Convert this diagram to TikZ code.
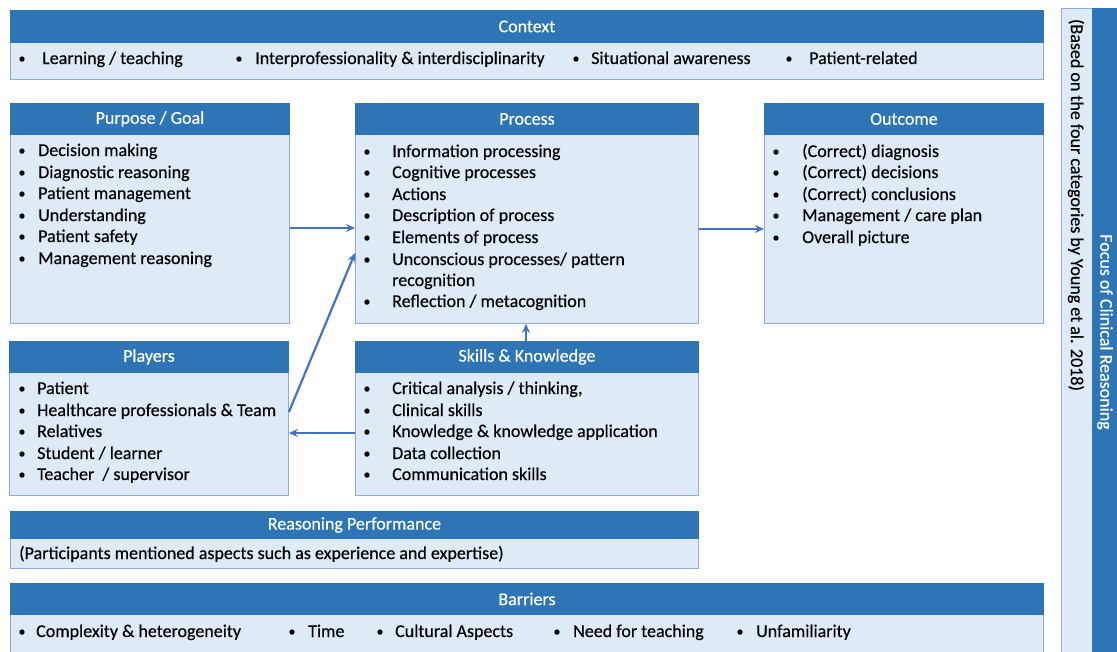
\documentclass[tikz,border=0pt]{standalone}
\usepackage{fontspec}
\setmainfont{Carlito}[FakeBold=0.35]
\newfontfamily\medfont{Carlito}[FakeBold=0.35]
\usetikzlibrary{arrows.meta}
\definecolor{hdr}{HTML}{2E75B6}
\definecolor{lite}{HTML}{DEEBF7}
\definecolor{edge}{HTML}{8FAADC}
\definecolor{arr}{HTML}{4472C4}
\tikzset{
  bodybox/.style={draw=edge, fill=lite, line width=0.9pt, anchor=north west, inner sep=0pt},
  hdrbox/.style={draw=hdr, fill=hdr, line width=0.9pt, anchor=north west, inner sep=0pt, text=white, font=\fontsize{18}{20}\selectfont},
  itm/.style={anchor=base west, inner sep=0pt, font=\fontsize{18}{20}\selectfont},
  bul/.style={anchor=base, inner sep=0pt, font=\fontsize{14}{16}\selectfont},
  conn/.style={draw=arr, line width=2.2pt, -{Stealth[length=9pt,width=8pt]}}
}
\begin{document}
\begin{tikzpicture}[x=1pt,y=-1pt]
\useasboundingbox (0,0) rectangle (1117,651);
% Context
\node[bodybox, minimum width=1033pt, minimum height=37pt] (ctxb) at (10,42) {};
\node[hdrbox, minimum width=1033pt, minimum height=32pt] (ctxh) at (10,10) {Context};
\foreach \bx/\tx/\t in {22/42/{Learning / teaching}, 239/255/{Interprofessionality \& interdisciplinarity}, 576/591/{Situational awareness}, 789/809/{Patient-related}}{
  \node[bul] at (\bx,63) {•}; \node[itm] at (\tx,64) {\t};}
% Purpose
\node[bodybox, minimum width=279pt, minimum height=189pt] (purb) at (10,134) {};
\node[hdrbox, minimum width=279pt, minimum height=31pt] (purh) at (10,103) {Purpose / Goal};
\foreach \y/\t in {156/{Decision making},178/{Diagnostic reasoning},199/{Patient management},221/{Understanding},242/{Patient safety},264/{Management reasoning}}{
  \node[bul] at (22,\y-1) {•}; \node[itm] at (38,\y) {\t};}
% Process
\node[bodybox, minimum width=343pt, minimum height=189pt] (prob) at (355,134) {};
\node[hdrbox, minimum width=343pt, minimum height=31pt] (proh) at (355,103) {Process};
\foreach \y/\t in {157/{Information processing},178/{Cognitive processes},200/{Actions},221/{Description of process},243/{Elements of process},265/{Unconscious processes/ pattern},307/{Reflection / metacognition}}{
  \node[bul] at (367,\y-1) {•}; \node[itm] at (392,\y) {\t};}
\node[itm] at (392,286) {recognition};
% Outcome
\node[bodybox, minimum width=279pt, minimum height=189pt] (outb) at (764,134) {};
\node[hdrbox, minimum width=279pt, minimum height=31pt] (outh) at (764,103) {Outcome};
\foreach \y/\t in {157/{(Correct) diagnosis},178/{(Correct) decisions},200/{(Correct) conclusions},221/{Management / care plan},243/{Overall picture}}{
  \node[bul] at (776,\y-1) {•}; \node[itm] at (802,\y) {\t};}
% Players
\node[bodybox, minimum width=279pt, minimum height=123pt] (plab) at (9,372) {};
\node[hdrbox, minimum width=279pt, minimum height=31pt] (plah) at (9,341) {Players};
\foreach \y/\t in {394/{Patient},416/{Healthcare professionals \& Team},437/{Relatives},459/{Student / learner},480/{Teacher \ / supervisor}}{
  \node[bul] at (22,\y-1) {•}; \node[itm] at (37,\y) {\t};}
% Skills
\node[bodybox, minimum width=343pt, minimum height=123pt] (skib) at (355,372) {};
\node[hdrbox, minimum width=343pt, minimum height=31pt] (skih) at (355,341) {Skills \& Knowledge};
\foreach \y/\t in {394/{Critical analysis / thinking,},416/{Clinical skills},437/{Knowledge \& knowledge application},459/{Data collection},480/{Communication skills}}{
  \node[bul] at (367,\y-1) {•}; \node[itm] at (392,\y) {\t};}
% Reasoning performance
\node[bodybox, minimum width=688pt, minimum height=30pt] (reab) at (10,538) {};
\node[hdrbox, minimum width=688pt, minimum height=27pt] (reah) at (10,511) {Reasoning Performance};
\node[itm] at (19,559) {(Participants mentioned aspects such as experience and expertise)};
% Barriers
\node[bodybox, minimum width=1033pt, minimum height=40pt] (barb) at (10,614) {};
\node[hdrbox, minimum width=1033pt, minimum height=31pt] (barh) at (10,583) {Barriers};
\foreach \bx/\tx/\t in {22/36/{Complexity \& heterogeneity}, 292/308/{Time}, 380/395/{Cultural Aspects}, 557/573/{Need for teaching}, 740/756/{Unfamiliarity}}{
  \node[bul] at (\bx,636) {•}; \node[itm] at (\tx,637) {\t};}
% Right side
\node[bodybox, minimum width=31pt, minimum height=650pt] (baseb) at (1061,8) {};
\node[hdrbox, minimum width=26pt, minimum height=650pt] (focb) at (1092,8) {};
\node[rotate=-90, inner sep=0pt, font=\fontsize{18}{20}\selectfont] (basetxt) at (1076,205) {(Based on the four categories by Young et al. 2018)};
\node[rotate=-90, inner sep=0pt, text=white, font=\fontsize{18}{20}\selectfont] (foctxt) at (1105,332) {Focus of Clinical Reasoning};
% Connectors
\coordinate (p1) at (289,228); \coordinate (p2) at (355,228);
\draw[conn] (purb.east |- p1) -- (prob.west |- p2);
\coordinate (q1) at (288,412); \coordinate (q2) at (355,253);
\draw[conn] (plab.east |- q1) -- (prob.west |- q2);
\coordinate (r1) at (698,229);
\draw[conn] (prob.east |- r1) -- (outb.west |- r1);
\coordinate (s1) at (526,341);
\draw[conn] (skih.north -| s1) -- (prob.south -| s1);
\coordinate (t1) at (355,433);
\draw[conn] (skib.west |- t1) -- (plab.east |- t1);
\end{tikzpicture}
\end{document}
